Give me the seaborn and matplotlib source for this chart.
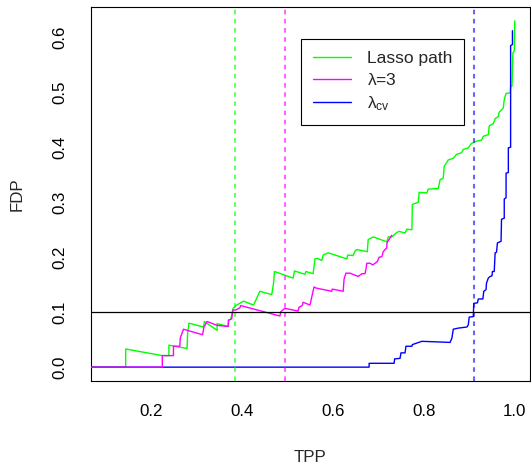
import matplotlib
matplotlib.use("Agg")
import matplotlib.pyplot as plt
import seaborn as sns
import pandas as pd

# FDP vs TPP along the lasso path and for two fixed penalty levels
lasso_tpp = [0.000, 0.145, 0.145, 0.2255, 0.240, 0.240, 0.280, 0.281, 0.284, 0.316,
             0.318, 0.346, 0.346, 0.371, 0.371, 0.376, 0.381, 0.389, 0.404, 0.426,
             0.440, 0.466, 0.470, 0.472, 0.513, 0.516, 0.539, 0.541, 0.557, 0.561,
             0.566, 0.576, 0.579, 0.590, 0.631, 0.633, 0.645, 0.649, 0.653, 0.676,
             0.678, 0.689, 0.719, 0.722, 0.730, 0.741, 0.746, 0.759, 0.763, 0.774,
             0.775, 0.788, 0.790, 0.807, 0.810, 0.832, 0.836, 0.843, 0.845, 0.854,
             0.865, 0.872, 0.883, 0.887, 0.898, 0.905, 0.916, 0.927, 0.931, 0.942,
             0.944, 0.953, 0.957, 0.964, 0.966, 0.971, 0.975, 0.977, 0.981, 0.990,
             0.991, 0.994, 0.996, 0.999, 1.000]
lasso_fdp = [0.000, 0.000, 0.033, 0.021, 0.021, 0.040, 0.034, 0.060, 0.080, 0.073,
             0.083, 0.067, 0.079, 0.074, 0.086, 0.087, 0.107, 0.113, 0.120, 0.113,
             0.138, 0.132, 0.153, 0.174, 0.162, 0.175, 0.169, 0.174, 0.170, 0.197,
             0.198, 0.194, 0.204, 0.208, 0.197, 0.204, 0.203, 0.211, 0.214, 0.210,
             0.232, 0.237, 0.228, 0.237, 0.237, 0.245, 0.247, 0.244, 0.251, 0.250,
             0.296, 0.300, 0.318, 0.317, 0.324, 0.325, 0.341, 0.344, 0.365, 0.377,
             0.380, 0.387, 0.390, 0.396, 0.399, 0.407, 0.411, 0.413, 0.420, 0.423,
             0.439, 0.443, 0.452, 0.456, 0.464, 0.468, 0.472, 0.487, 0.498, 0.499,
             0.510, 0.511, 0.572, 0.575, 0.630]

lam3_tpp = [0.000, 0.2255, 0.2255, 0.250, 0.250, 0.264, 0.265, 0.272, 0.314, 0.317,
            0.324, 0.346, 0.370, 0.371, 0.378, 0.381, 0.387, 0.396, 0.398, 0.484,
            0.486, 0.495, 0.524, 0.526, 0.533, 0.535, 0.550, 0.559, 0.563, 0.598,
            0.599, 0.623, 0.625, 0.629, 0.638, 0.656, 0.664, 0.671, 0.673, 0.675,
            0.682, 0.688, 0.693, 0.698, 0.702, 0.708, 0.711, 0.715, 0.719, 0.719,
            0.722, 0.726, 0.730]
lam3_fdp = [0.000, 0.000, 0.021, 0.021, 0.038, 0.038, 0.053, 0.069, 0.059, 0.073,
            0.083, 0.076, 0.074, 0.085, 0.088, 0.104, 0.104, 0.108, 0.112, 0.093,
            0.101, 0.107, 0.102, 0.109, 0.112, 0.118, 0.113, 0.146, 0.144, 0.138,
            0.142, 0.138, 0.160, 0.171, 0.171, 0.165, 0.170, 0.170, 0.178, 0.189,
            0.189, 0.186, 0.189, 0.192, 0.200, 0.201, 0.210, 0.214, 0.217, 0.225,
            0.230, 0.235, 0.240]

cv_tpp = [0.000, 0.680, 0.680, 0.735, 0.736, 0.748, 0.750, 0.759, 0.761, 0.774,
          0.775, 0.796, 0.858, 0.862, 0.865, 0.876, 0.895, 0.898, 0.900, 0.909,
          0.910, 0.918, 0.920, 0.930, 0.932, 0.937, 0.938, 0.942, 0.946, 0.950,
          0.951, 0.955, 0.957, 0.960, 0.962, 0.970, 0.971, 0.977, 0.977, 0.981,
          0.981, 0.986, 0.986, 0.991, 0.991, 0.995, 0.995]
cv_fdp = [0.000, 0.000, 0.007, 0.007, 0.015, 0.016, 0.026, 0.026, 0.038, 0.038,
          0.041, 0.047, 0.045, 0.053, 0.069, 0.071, 0.073, 0.077, 0.091, 0.092,
          0.116, 0.117, 0.124, 0.124, 0.138, 0.141, 0.153, 0.162, 0.165, 0.166,
          0.174, 0.174, 0.208, 0.209, 0.226, 0.229, 0.269, 0.271, 0.306, 0.308,
          0.353, 0.354, 0.399, 0.400, 0.585, 0.587, 0.612]

# TPP at which each method crosses FDP = 0.1 / is selected, and the FDP target
lasso_cut = 0.385
lam3_cut = 0.495
cv_cut = 0.910
fdp_target = 0.1

x_ticks = [0.2, 0.4, 0.6, 0.8, 1.0]
y_ticks = [0.0, 0.1, 0.2, 0.3, 0.4, 0.5, 0.6]

labels = ["Lasso path", r"$\mathregular{\lambda}$=3", r"$\mathregular{\lambda_{cv}}$"]
colors = ["#00FF00", "#FF00FF", "#0000FF"]

sns.set_style("white")
plt.rcParams["font.family"] = ["Liberation Sans", "DejaVu Sans"]
plt.rcParams["mathtext.fontset"] = "custom"
plt.rcParams["mathtext.rm"] = "Liberation Sans"
plt.rcParams["mathtext.it"] = "Liberation Sans:italic"

fig = plt.figure(figsize=(5.31, 4.66), dpi=100)
ax = fig.add_axes([91 / 531, 85 / 466, 439 / 531, 374 / 466])

lw = 1.0
lasso_df = pd.DataFrame({"TPP": lasso_tpp, "FDP": lasso_fdp})
lam3_df = pd.DataFrame({"TPP": lam3_tpp, "FDP": lam3_fdp})
cv_df = pd.DataFrame({"TPP": cv_tpp, "FDP": cv_fdp})

sns.lineplot(data=lasso_df, x="TPP", y="FDP", sort=False, estimator=None,
             color=colors[0], linewidth=lw, label=labels[0], ax=ax, zorder=2)
sns.lineplot(data=cv_df, x="TPP", y="FDP", sort=False, estimator=None,
             color=colors[2], linewidth=lw, label=labels[2], ax=ax, zorder=3)
sns.lineplot(data=lam3_df, x="TPP", y="FDP", sort=False, estimator=None,
             color=colors[1], linewidth=lw, label=labels[1], ax=ax, zorder=4)

for cut, c in zip([lasso_cut, lam3_cut, cv_cut], colors):
    ax.axvline(cut, color=c, alpha=0.6, linewidth=1.5, dashes=(2.2, 2.2), zorder=5)
ax.axhline(fdp_target, color="black", linewidth=0.9, zorder=6)

ax.set_xlim(0.0688, 1.0336)
ax.set_ylim(-0.0252, 0.6552)
ax.set_xticks(x_ticks)
ax.set_xticklabels([f"{v:.1f}" for v in x_ticks])
ax.set_yticks(y_ticks)
ax.set_yticklabels([f"{v:.1f}" for v in y_ticks])

ax.tick_params(axis="both", direction="out", length=7.2, width=0.8,
               color="black", labelsize=12.2, labelcolor="black")
ax.tick_params(axis="x", pad=9)
ax.tick_params(axis="y", pad=10)
for t in ax.get_yticklabels():
    t.set_rotation(90)
    t.set_va("center")
    t.set_ha("right")

for s in ax.spines.values():
    s.set_color("black")
    s.set_linewidth(0.8)

ax.set_xlabel("TPP", fontsize=12.2, labelpad=23)
ax.set_ylabel("FDP", fontsize=12.2, labelpad=20)

handles, labs = ax.get_legend_handles_labels()
order = [labs.index(l) for l in labels]
leg = ax.legend([handles[i] for i in order], [labs[i] for i in order],
                loc="upper left", bbox_to_anchor=(0.478, 0.914),
                fontsize=12.5, frameon=True, fancybox=False,
                edgecolor="black", framealpha=1, borderpad=0.7,
                handlelength=2.2, handletextpad=0.9, labelspacing=0.33,
                borderaxespad=0)
leg.get_frame().set_linewidth(0.8)

fig.savefig("out.png", dpi=100)
